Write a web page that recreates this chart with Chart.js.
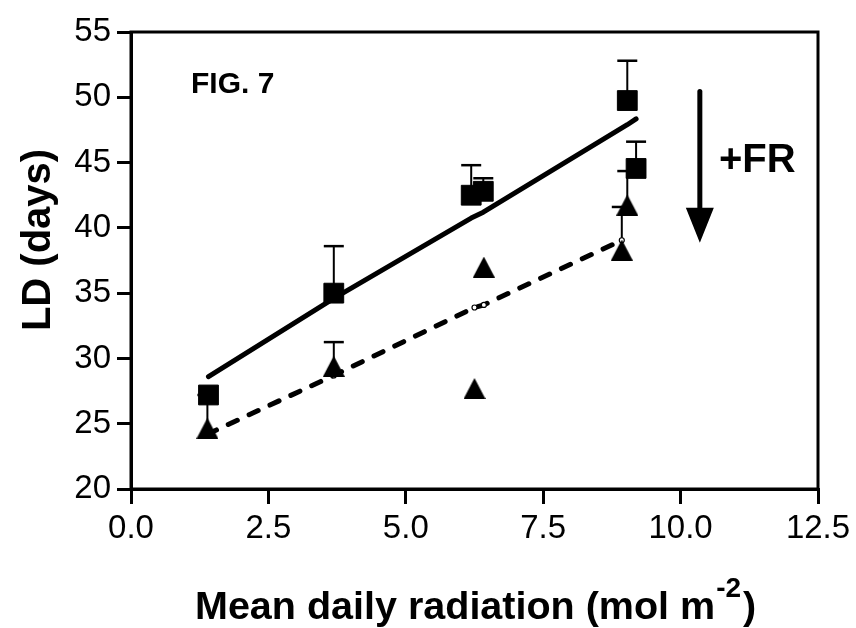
<!DOCTYPE html>
<html>
<head>
<meta charset="utf-8">
<script src="https://cdn.jsdelivr.net/npm/chart.js@4/dist/chart.umd.min.js"></script>
<style>
  html, body { margin: 0; padding: 0; background: #ffffff; }
  #wrap { width: 856px; height: 628px; }
</style>
</head>
<body>
<div id="wrap"><canvas id="c" width="856" height="628"></canvas></div>
<script>
// ---- Data ----
const xTickValues = [0, 2.5, 5.0, 7.5, 10.0, 12.5];
const yTickValues = [20, 25, 30, 35, 40, 45, 50, 55];

// Squares (no far-red)
const squareX = [1.41, 3.69, 6.19, 6.41, 9.03, 9.19];
const squareY = [27.2, 35.0, 42.5, 42.8, 49.75, 44.55];
const squareErrHigh = [null, 38.6, 44.8, 43.8, 52.8, 46.6];

// Triangles (+FR)
const triangleX = [1.39, 3.69, 6.25, 6.42, 9.03, 8.93];
const triangleY = [24.65, 29.4, 27.7, 37.0, 41.75, 38.3];
const triangleErrHigh = [27.2, 31.25, null, null, 44.35, 41.6];

// Regression lines
const solidFitX = [1.41, 3.69, 6.19, 6.41, 9.03, 9.19];
const solidFitY = [28.6, 34.6, 40.75, 41.2, 47.9, 48.35];
const dashedFitX = [1.39, 3.69, 6.25, 6.42, 8.93];
const dashedFitY = [24.2, 28.7, 33.9, 34.1, 39.05];

// Text
const yTitle = 'LD (days)';
const xTitleMain = 'Mean daily radiation (mol m';
const xTitleSup = '-2';
const xTitleEnd = ')';
const figLabel = 'FIG. 7';
const frLabel = '+FR';

const FONT = '"Liberation Sans", Arial, Helvetica, sans-serif';

function pts(xs, ys) { return xs.map((x, i) => ({ x: x, y: ys[i] })); }

// triangle marker centered in its bounding box
const triCanvas = document.createElement('canvas');
triCanvas.width = 22; triCanvas.height = 21;
(function () {
  const g = triCanvas.getContext('2d');
  g.fillStyle = '#000';
  g.beginPath();
  g.moveTo(11, 0);
  g.lineTo(22, 21);
  g.lineTo(0, 21);
  g.closePath();
  g.fill();
})();

const decor = {
  id: 'decor',
  beforeDatasetsDraw(chart) {
    const ctx = chart.ctx;
    const xs = chart.scales.x, ys = chart.scales.y;
    ctx.save();
    ctx.strokeStyle = '#000';
    function bars(X, Y, H) {
      X.forEach((xv, i) => {
        if (H[i] == null) return;
        const px = xs.getPixelForValue(xv);
        const py = ys.getPixelForValue(Y[i]);
        const ph = ys.getPixelForValue(H[i]);
        ctx.lineWidth = 2;
        ctx.beginPath(); ctx.moveTo(px, py); ctx.lineTo(px, ph); ctx.stroke();
        ctx.lineWidth = 2.5;
        ctx.beginPath(); ctx.moveTo(px - 10, ph); ctx.lineTo(px + 10, ph); ctx.stroke();
      });
    }
    bars(squareX, squareY, squareErrHigh);
    bars(triangleX, triangleY, triangleErrHigh);
    ctx.restore();
  },
  afterDraw(chart) {
    const ctx = chart.ctx;
    const a = chart.chartArea;
    const xs = chart.scales.x, ys = chart.scales.y;
    ctx.save();
    // frame
    ctx.strokeStyle = '#000';
    ctx.lineWidth = 3;
    ctx.strokeRect(a.left, a.top, a.right - a.left, a.bottom - a.top);

    ctx.fillStyle = '#000';
    // FIG. 7
    ctx.font = 'bold 30px ' + FONT;
    ctx.textAlign = 'left';
    ctx.textBaseline = 'alphabetic';
    ctx.fillText(figLabel, a.left + 60, a.top + 61);

    // +FR
    ctx.font = 'bold 40px ' + FONT;
    ctx.fillText(frLabel, a.left + 588, a.top + 140);

    // arrow
    const ax = xs.getPixelForValue(10.35);
    const aTop = ys.getPixelForValue(50.45);
    const aTip = ys.getPixelForValue(38.85);
    ctx.lineWidth = 5;
    ctx.lineCap = 'round';
    ctx.beginPath(); ctx.moveTo(ax, aTop); ctx.lineTo(ax, aTip - 30); ctx.stroke();
    ctx.beginPath();
    ctx.moveTo(ax - 14, aTip - 35);
    ctx.lineTo(ax + 14, aTip - 35);
    ctx.lineTo(ax, aTip);
    ctx.closePath();
    ctx.fill();

    // y title
    ctx.save();
    ctx.translate(50, a.top + 208);
    ctx.rotate(-Math.PI / 2);
    ctx.font = 'bold 40px ' + FONT;
    ctx.textAlign = 'center';
    ctx.fillText(yTitle, 0, 0);
    ctx.restore();

    // x title with superscript
    ctx.textAlign = 'left';
    ctx.font = 'bold 39.5px ' + FONT;
    let x0 = 195;
    const base = 619;
    ctx.fillText(xTitleMain, x0, base);
    x0 += ctx.measureText(xTitleMain).width + 1;
    ctx.font = 'bold 28px ' + FONT;
    ctx.fillText(xTitleSup, x0, base - 22);
    x0 += ctx.measureText(xTitleSup).width + 2;
    ctx.font = 'bold 39.5px ' + FONT;
    ctx.fillText(xTitleEnd, x0, base);
    ctx.restore();
  }
};

new Chart(document.getElementById('c'), {
  type: 'scatter',
  data: {
    datasets: [
      {
        label: 'squares',
        data: pts(squareX, squareY),
        pointStyle: 'rect',
        pointRadius: 14,
        pointBackgroundColor: '#000',
        pointBorderColor: '#000',
        pointBorderWidth: 1,
        showLine: false,
        order: 1
      },
      {
        label: 'triangles',
        data: pts(triangleX, triangleY),
        pointStyle: triCanvas,
        pointRadius: 11,
        showLine: false,
        order: 1
      },
      {
        label: 'fit solid',
        data: pts(solidFitX, solidFitY),
        showLine: true,
        borderColor: '#000',
        borderWidth: 5,
        borderCapStyle: 'round',
        borderJoinStyle: 'round',
        pointRadius: 0,
        tension: 0,
        order: 3
      },
      {
        label: 'fit dashed',
        data: pts(dashedFitX, dashedFitY),
        showLine: true,
        borderColor: '#000',
        borderWidth: 5,
        borderDash: [10, 13],
        borderCapStyle: 'round',
        pointRadius: 2.5,
        pointBackgroundColor: '#fff',
        pointBorderColor: '#000',
        pointBorderWidth: 1.2,
        tension: 0,
        order: 2
      }
    ]
  },
  options: {
    responsive: false,
    devicePixelRatio: 1,
    animation: false,
    events: [],
    layout: { padding: { left: 0, top: 32, right: 38, bottom: 0 } },
    plugins: { legend: { display: false }, tooltip: { enabled: false }, title: { display: false } },
    scales: {
      x: {
        type: 'linear',
        min: 0, max: 12.5,
        afterBuildTicks(s) { s.ticks = xTickValues.map(v => ({ value: v })); },
        afterFit(s) { s.height = 139; },
        ticks: {
          color: '#000',
          font: { family: FONT, size: 33 },
          padding: 5,
          maxRotation: 0,
          callback: v => Number(v).toFixed(1)
        },
        grid: { drawOnChartArea: false, drawTicks: true, tickLength: 15, lineWidth: 3, color: '#000' },
        border: { display: true, color: '#000', width: 3 },
        title: { display: false }
      },
      y: {
        type: 'linear',
        min: 20, max: 55,
        afterBuildTicks(s) { s.ticks = yTickValues.map(v => ({ value: v })); },
        afterFit(s) { s.width = 131; },
        ticks: {
          color: '#000',
          font: { family: FONT, size: 33 },
          padding: 6,
          callback: v => String(v)
        },
        grid: { drawOnChartArea: false, drawTicks: true, tickLength: 14, lineWidth: 3, color: '#000' },
        border: { display: true, color: '#000', width: 3 },
        title: { display: false }
      }
    }
  },
  plugins: [decor]
});
</script>
</body>
</html>
